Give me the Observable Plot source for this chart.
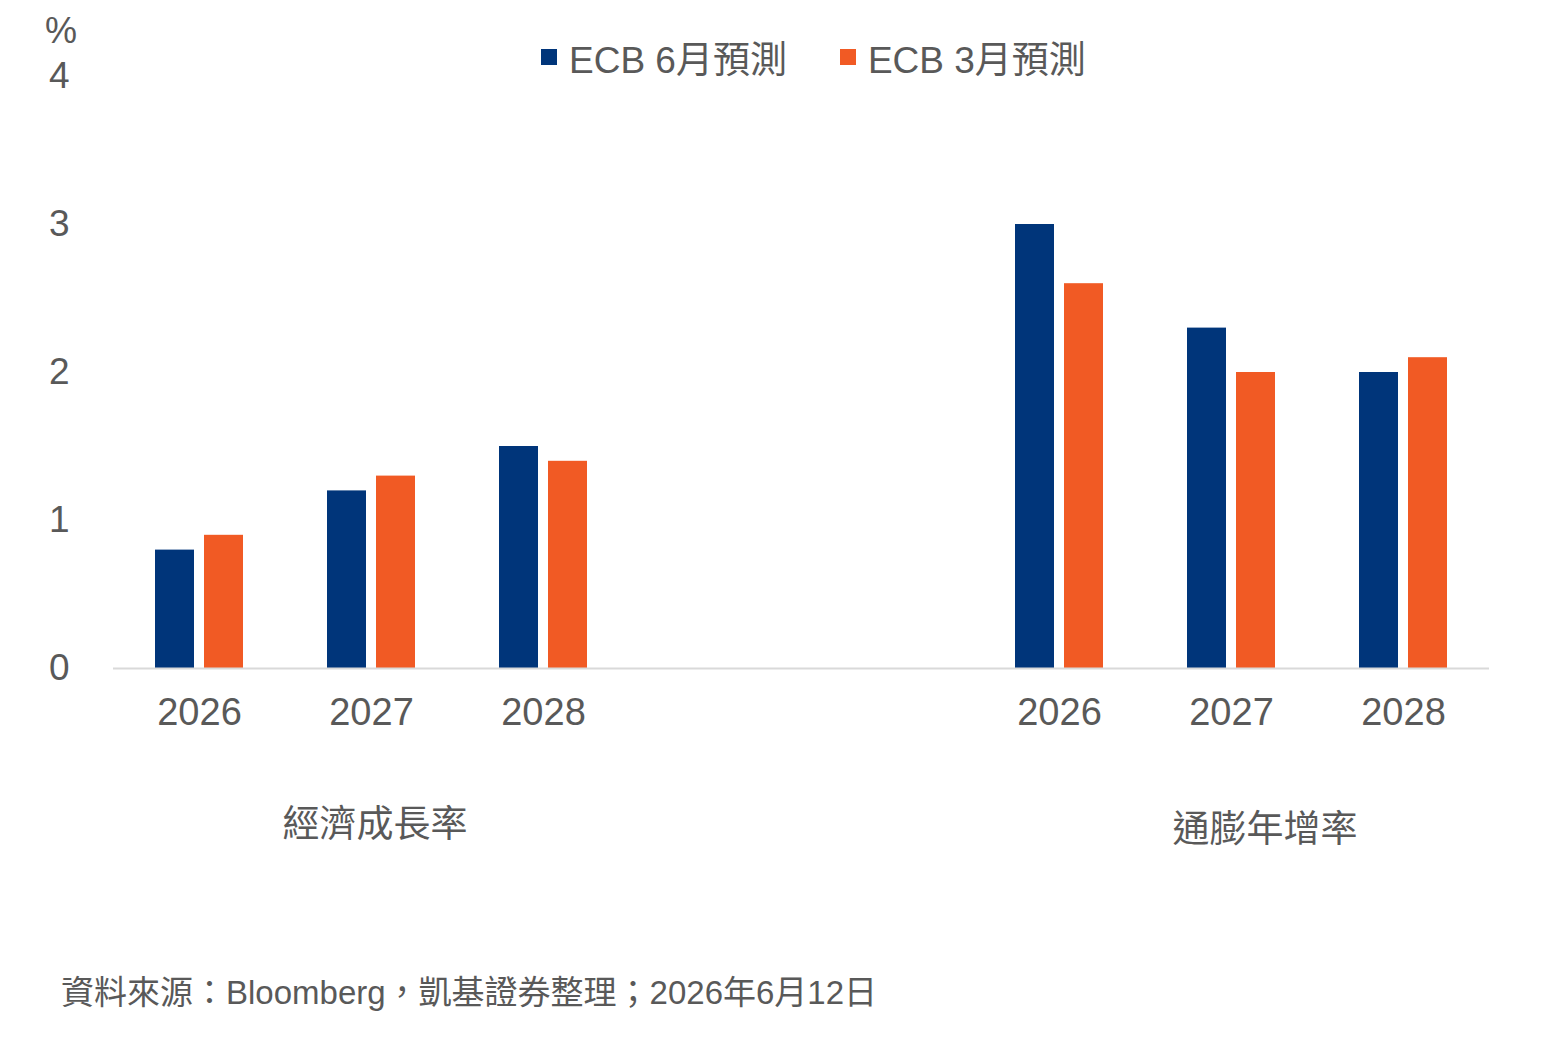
<!DOCTYPE html>
<html>
<head>
<meta charset="utf-8">
<script src="https://cdn.jsdelivr.net/npm/d3@7"></script>
<script src="https://cdn.jsdelivr.net/npm/@observablehq/plot@0.6"></script>
<style>
  html, body { margin: 0; padding: 0; background: #fff; }
  body { width: 1548px; height: 1039px; position: relative; overflow: hidden;
         font-family: "Liberation Sans", Arial, "Noto Sans CJK TC", sans-serif; color: #595959; }
  .abs { position: absolute; white-space: nowrap; }
  #legend { left: 541px; top: 35px; display: flex; align-items: center; font-size: 37px; height: 44px; }
  #legend .item { display: flex; align-items: center; }
  #legend .sw { width: 16px; height: 16px; margin-right: 12px; }
  #chart { position: absolute; left: 0; top: 0; }
  .group { font-size: 37px; transform: translate(-50%, -50%); }
</style>
</head>
<body>
<div id="chart"></div>
<div class="abs" id="unit" style="left:45px; top:10px; font-size:36px;">%</div>
<div class="abs" id="legend"></div>
<div class="abs group" id="g1"></div>
<div class="abs group" id="g2"></div>
<div class="abs" id="source" style="left:61px; top:966px; font-size:33px;">資料來源：Bloomberg，凱基證券整理；2026年6月12日</div>
<script>
// ---- data ----
const groups = ["經濟成長率", "通膨年增率"];
const years = ["2026", "2027", "2028"];
const seriesNames = ["ECB 6月預測", "ECB 3月預測"];
const seriesColors = ["#00357A", "#F15A24"];
const growthJune = [0.8, 1.2, 1.5];
const growthMarch = [0.9, 1.3, 1.4];
const inflationJune = [3.0, 2.3, 2.0];
const inflationMarch = [2.6, 2.0, 2.1];
const yTicks = [0, 1, 2, 3, 4];
const spacers = ["gap-a", "gap-b"];

// category slots: 3 years, two empty spacers, 3 years
const slots = [
  ...years.map(y => groups[0] + "|" + y),
  ...spacers,
  ...years.map(y => groups[1] + "|" + y)
];

const rows = [];
years.forEach((yr, i) => {
  rows.push({slot: groups[0] + "|" + yr, series: seriesNames[0], value: growthJune[i]});
  rows.push({slot: groups[0] + "|" + yr, series: seriesNames[1], value: growthMarch[i]});
});
years.forEach((yr, i) => {
  rows.push({slot: groups[1] + "|" + yr, series: seriesNames[0], value: inflationJune[i]});
  rows.push({slot: groups[1] + "|" + yr, series: seriesNames[1], value: inflationMarch[i]});
});

const font = '"Liberation Sans", Arial, "Noto Sans CJK TC", sans-serif';

const chart = Plot.plot({
  width: 1548,
  height: 760,
  marginTop: 76,
  marginBottom: 92,
  marginLeft: 112,
  marginRight: 58,
  style: {fontFamily: font, fontSize: "36px", color: "#595959", background: "transparent"},
  fx: {domain: slots, padding: 0, label: null},
  x: {domain: seriesNames, paddingInner: 0.2, paddingOuter: 0.84, axis: null},
  y: {domain: [0, 4], label: null},
  color: {domain: seriesNames, range: seriesColors},
  marks: [
    Plot.axisY({ticks: yTicks, tickFormat: "d", tickSize: 0, tickPadding: 44, fontSize: 37, label: null}),
    Plot.axisFx({anchor: "bottom", tickSize: 0, tickPadding: 30, fontSize: 38, label: null,
                 tickFormat: d => d.includes("|") ? d.split("|")[1] : ""}),
    Plot.barY(rows, {fx: "slot", x: "series", y: "value", fill: "series"}),
    Plot.ruleY(slots, {fx: d => d, y: 0, stroke: "#D9D9D9", strokeWidth: 2})
  ]
});
document.getElementById("chart").appendChild(chart);

// legend
const legend = document.getElementById("legend");
seriesNames.forEach((name, i) => {
  const item = document.createElement("div");
  item.className = "item";
  if (i > 0) item.style.marginLeft = "53px";
  const sw = document.createElement("div");
  sw.className = "sw";
  sw.style.background = seriesColors[i];
  const t = document.createElement("span");
  t.textContent = name;
  item.appendChild(sw);
  item.appendChild(t);
  legend.appendChild(item);
});

// group labels
const g1 = document.getElementById("g1");
g1.textContent = groups[0];
g1.style.left = "375px"; g1.style.top = "821px";
const g2 = document.getElementById("g2");
g2.textContent = groups[1];
g2.style.left = "1265px"; g2.style.top = "826px";
</script>
</body>
</html>
